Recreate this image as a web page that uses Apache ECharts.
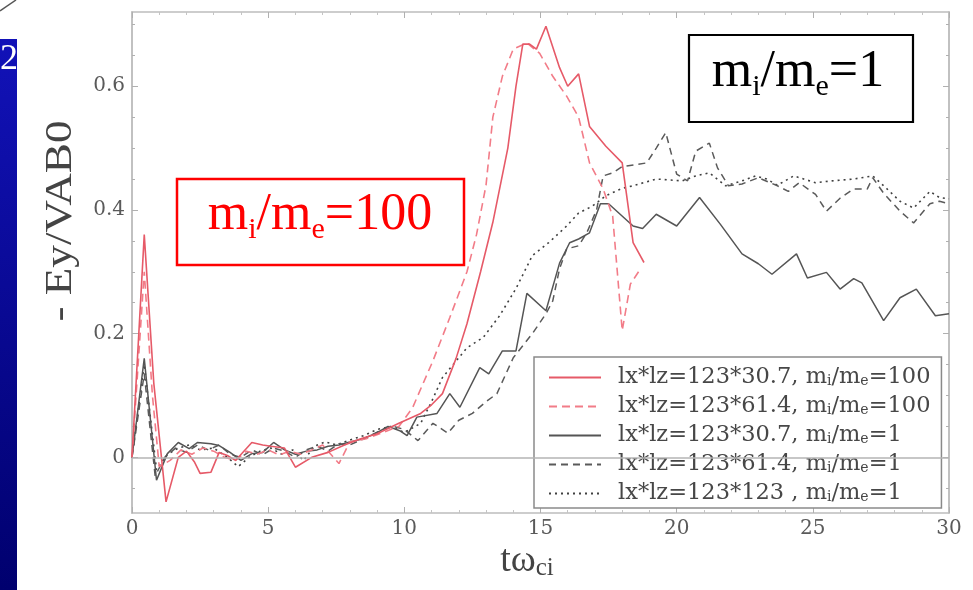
<!DOCTYPE html>
<html>
<head>
<meta charset="utf-8">
<script src="https://cdn.jsdelivr.net/npm/echarts@6/dist/echarts.min.js"></script>
<style>
  html, body { margin: 0; padding: 0; background: #fff; }
  #chart { width: 973px; height: 590px; }
</style>
</head>
<body>
<div id="chart"></div>
<script>
// Reconnection electric field -Ey/(VA B0) versus time t*omega_ci, five runs.
// Each series is a list of [t, value] samples.

const xTicks = [0, 5, 10, 15, 20, 25, 30];
const yTicks = [0, 0.2, 0.4, 0.6];
const yMinorTicks = [-0.05, 0.05, 0.1, 0.15, 0.25, 0.3, 0.35, 0.45, 0.5, 0.55, 0.65, 0.7];

const seriesNames = [
  ['lx*lz=123*30.7, m', 'i', '/m', 'e', '=100'],
  ['lx*lz=123*61.4, m', 'i', '/m', 'e', '=100'],
  ['lx*lz=123*30.7, m', 'i', '/m', 'e', '=1'],
  ['lx*lz=123*61.4, m', 'i', '/m', 'e', '=1'],
  ['lx*lz=123*123 , m', 'i', '/m', 'e', '=1']
];

// lx*lz = 123*30.7, mi/me = 100
const red307 = [
  [0, 0], [0.45, 0.36], [0.8, 0.12], [1.25, -0.072], [1.7, 0.0], [2.0, 0.01], [2.3, -0.008],
  [2.5, -0.026], [2.9, -0.024], [3.2, 0.008], [3.5, 0.003], [3.8, -0.005], [4.4, 0.024],
  [4.8, 0.02], [5.1, 0.018], [5.6, 0.015], [6.0, -0.016], [6.6, 0.0], [7.2, 0.008],
  [7.8, 0.02], [8.4, 0.03], [9.0, 0.038], [9.8, 0.055], [10.6, 0.071], [11.0, 0.085],
  [11.4, 0.103], [11.9, 0.16], [12.3, 0.216], [12.8, 0.3], [13.25, 0.38], [13.8, 0.5],
  [14.1, 0.6], [14.35, 0.668], [14.6, 0.668], [14.85, 0.66], [15.2, 0.697], [15.7, 0.63],
  [16.0, 0.6], [16.4, 0.62], [16.8, 0.535], [17.4, 0.503], [18.0, 0.476], [18.4, 0.347],
  [18.8, 0.315]
];

// lx*lz = 123*61.4, mi/me = 100
const red614 = [
  [0, 0], [0.45, 0.3], [0.75, 0.1], [1.0, -0.015], [1.4, -0.005], [1.8, 0.012], [2.2, 0.005],
  [2.6, 0.015], [3.0, 0.01], [3.4, 0.0], [3.8, -0.005], [4.2, 0.01], [4.6, 0.005],
  [5.0, 0.012], [5.4, 0.004], [5.8, 0.01], [6.2, 0.005], [6.6, 0.012], [7.0, 0.02],
  [7.6, -0.01], [8.0, 0.025], [8.6, 0.03], [9.2, 0.04], [9.8, 0.05], [10.3, 0.08],
  [11.05, 0.156], [11.67, 0.226], [12.3, 0.3], [12.65, 0.36], [13.0, 0.44], [13.25, 0.55],
  [13.6, 0.616], [14.0, 0.66], [14.5, 0.67], [14.97, 0.653], [15.45, 0.616], [15.96, 0.584],
  [16.4, 0.55], [16.8, 0.476], [17.3, 0.434], [17.65, 0.39], [18.0, 0.205], [18.3, 0.28],
  [18.6, 0.3]
];

// lx*lz = 123*30.7, mi/me = 1
const black307 = [
  [0, 0], [0.45, 0.16], [0.9, -0.037], [1.3, 0.006], [1.7, 0.024], [2.1, 0.014], [2.4, 0.024],
  [2.9, 0.022], [3.2, 0.019], [3.6, 0.008], [4.0, -0.005], [4.4, 0.006], [4.8, 0.008],
  [5.2, 0.024], [5.6, 0.012], [6.0, 0.005], [6.4, 0.01], [6.8, 0.012], [7.2, 0.018],
  [7.6, 0.02], [8.0, 0.025], [8.5, 0.03], [9.0, 0.04], [9.4, 0.05], [9.83, 0.043],
  [10.1, 0.035], [10.46, 0.065], [11.2, 0.071], [11.67, 0.103], [12.04, 0.081],
  [12.77, 0.145], [13.1, 0.135], [13.6, 0.172], [14.1, 0.172], [14.5, 0.265], [15.2, 0.237],
  [15.7, 0.314], [16.07, 0.347], [16.4, 0.353], [16.8, 0.363], [17.2, 0.41], [17.5, 0.41],
  [18.4, 0.374], [18.75, 0.37], [19.25, 0.393], [20.0, 0.374], [20.84, 0.42], [21.6, 0.377],
  [22.4, 0.329], [23.0, 0.313], [23.5, 0.296], [24.4, 0.329], [24.8, 0.29], [25.5, 0.299],
  [26.0, 0.272], [26.5, 0.289], [26.8, 0.282], [27.6, 0.221], [28.2, 0.258], [28.8, 0.272],
  [29.5, 0.229], [30, 0.232]
];

// lx*lz = 123*61.4, mi/me = 1
const black614 = [
  [0, 0], [0.45, 0.135], [0.85, -0.03], [1.2, 0.0], [1.6, 0.015], [2.0, 0.008], [2.4, 0.02],
  [2.8, 0.012], [3.2, 0.02], [3.6, 0.005], [4.0, 0.0], [4.4, 0.012], [4.8, 0.004],
  [5.2, 0.015], [5.6, 0.01], [6.0, 0.0], [6.4, 0.012], [6.8, 0.018], [7.2, 0.01],
  [7.6, 0.022], [8.0, 0.02], [8.6, 0.032], [9.2, 0.045], [9.6, 0.05], [10.0, 0.045],
  [10.5, 0.027], [11.05, 0.055], [11.6, 0.039], [12.0, 0.06], [12.5, 0.071], [13.0, 0.09],
  [13.4, 0.103], [14.0, 0.161], [14.7, 0.2], [15.2, 0.232], [15.45, 0.253], [15.7, 0.305],
  [15.96, 0.337], [16.4, 0.342], [16.7, 0.363], [17.06, 0.4], [17.3, 0.455], [17.65, 0.46],
  [18.0, 0.47], [18.9, 0.476], [19.25, 0.5], [19.6, 0.525], [20.0, 0.458], [20.4, 0.447],
  [20.7, 0.495], [21.2, 0.508], [21.5, 0.468], [21.9, 0.439], [22.4, 0.442], [23.0, 0.452],
  [23.7, 0.439], [24.1, 0.43], [24.5, 0.444], [25.1, 0.425], [25.5, 0.398], [26.0, 0.419],
  [26.5, 0.434], [27.0, 0.434], [27.2, 0.452], [27.6, 0.427], [28.2, 0.398], [28.7, 0.379],
  [29.3, 0.41], [29.65, 0.414], [30, 0.41]
];

// lx*lz = 123*123, mi/me = 1
const black123 = [
  [0, 0], [0.45, 0.15], [0.9, -0.02], [1.3, 0.005], [1.7, 0.015], [2.1, 0.02], [2.5, 0.012],
  [3.0, 0.015], [3.5, 0.0], [3.9, -0.015], [4.3, 0.0], [4.7, 0.01], [5.1, 0.015],
  [5.5, 0.005], [5.9, 0.012], [6.3, -0.005], [6.7, 0.018], [7.1, 0.025], [7.5, 0.02],
  [8.0, 0.028], [8.5, 0.035], [9.0, 0.045], [9.5, 0.05], [10.0, 0.04], [10.6, 0.055],
  [11.0, 0.09], [11.4, 0.129], [12.3, 0.177], [12.9, 0.194], [13.5, 0.229], [14.1, 0.273],
  [14.7, 0.326], [15.3, 0.347], [15.96, 0.374], [16.4, 0.395], [16.9, 0.406], [17.4, 0.423],
  [18.0, 0.435], [18.4, 0.439], [19.25, 0.45], [20.2, 0.447], [20.7, 0.455], [21.2, 0.46],
  [21.8, 0.439], [22.4, 0.447], [22.9, 0.455], [23.3, 0.45], [23.7, 0.44], [24.3, 0.455],
  [25.1, 0.444], [25.7, 0.447], [26.5, 0.45], [27.2, 0.455], [27.7, 0.435], [28.2, 0.414],
  [28.7, 0.403], [29.3, 0.43], [29.65, 0.42], [30, 0.418]
];

const SERIF = '"Liberation Serif", "Times New Roman", serif';
const WIDE_SERIF = '"DejaVu Serif", serif';
const Y_MIN = -0.09, Y_MAX = 0.72;

const chart = echarts.init(document.getElementById('chart'), null, { renderer: 'canvas' });

function plainName(parts) { return parts.join(''); }
function richName(parts) {
  return '{t|' + parts[0] + '}{s|' + parts[1] + '}{t|' + parts[2] + '}{s|' + parts[3] + '}{t|' + parts[4] + '}';
}
const richByName = {};
seriesNames.forEach(p => { richByName[plainName(p)] = richName(p); });

function lineSeries(idx, data, color, type, width, extra) {
  return Object.assign({
    name: plainName(seriesNames[idx]),
    type: 'line',
    data: data,
    xAxisIndex: 0,
    yAxisIndex: 0,
    symbol: 'none',
    smooth: false,
    lineStyle: { color: color, width: width, type: type },
    itemStyle: { color: color },
    emphasis: { disabled: true },
    animation: false
  }, extra || {});
}

function yAxisDef(position, values, tickLen, showLabel) {
  return {
    type: 'value', position: position, min: Y_MIN, max: Y_MAX,
    axisLine: { show: true, onZero: false, lineStyle: { color: '#bdbdbd', width: 1.5 } },
    axisTick: { show: true, inside: true, length: tickLen, customValues: values, lineStyle: { color: '#b0b0b0', width: 1 } },
    axisLabel: {
      show: showLabel, customValues: values, margin: 7,
      formatter: v => (Math.abs(v) < 1e-9 ? '0' : v.toFixed(1)),
      fontFamily: WIDE_SERIF, fontSize: 20, color: '#5a5a5a'
    },
    splitLine: { show: false }
  };
}

function xAxisDef(position, showLabel) {
  return {
    type: 'value', position: position, min: 0, max: 30, interval: 5,
    axisLine: { show: true, onZero: false, lineStyle: { color: '#bdbdbd', width: 1.5 } },
    axisTick: { show: true, inside: true, length: 6, lineStyle: { color: '#b0b0b0', width: 1 } },
    minorTick: { show: true, splitNumber: 5, length: 3, lineStyle: { color: '#c4c4c4', width: 1 } },
    axisLabel: {
      show: showLabel, margin: 6, fontFamily: WIDE_SERIF, fontSize: 20, color: '#5a5a5a',
      customValues: xTicks
    },
    splitLine: { show: false },
    minorSplitLine: { show: false }
  };
}

const option = {
  backgroundColor: '#ffffff',
  animation: false,
  grid: { left: 132, right: 24, top: 12, bottom: 77, containLabel: false },
  xAxis: [xAxisDef('bottom', true), xAxisDef('top', false)],
  yAxis: [
    yAxisDef('left', yTicks, 6, true),
    yAxisDef('left', yMinorTicks, 3, false),
    yAxisDef('right', yTicks, 6, false),
    yAxisDef('right', yMinorTicks, 3, false)
  ],
  legend: {
    show: true,
    orient: 'vertical',
    left: 534, top: 357,
    padding: [9, 11, 3, 14],
    itemWidth: 52, itemHeight: 14, itemGap: 6,
    backgroundColor: '#ffffff',
    borderColor: '#8a8a8a', borderWidth: 1.5, borderRadius: 0,
    selectedMode: false,
    itemStyle: { opacity: 0, borderWidth: 0 },
    formatter: name => richByName[name],
    textStyle: {
      padding: [0, 0, 0, 12],
      lineHeight: 22,
      rich: {
        t: { fontFamily: WIDE_SERIF, fontSize: 22.5, color: '#474747', lineHeight: 22 },
        s: { fontFamily: WIDE_SERIF, fontSize: 14, color: '#474747', lineHeight: 14, verticalAlign: 'bottom' }
      }
    },
    data: seriesNames.map(plainName)
  },
  series: [
    lineSeries(4, black123, '#404040', [2, 4], 1.6),
    lineSeries(3, black614, '#5a5a5a', [7, 5], 1.5),
    lineSeries(2, black307, '#555555', 'solid', 1.5, {
      markLine: {
        silent: true, symbol: ['none', 'none'], animation: false,
        label: { show: false },
        lineStyle: { color: '#b4b4b4', type: 'solid', width: 1.5 },
        data: [{ yAxis: 0 }]
      }
    }),
    lineSeries(1, red614, '#f27c88', [8, 5], 1.6),
    lineSeries(0, red307, '#e65a68', 'solid', 1.6)
  ],
  graphic: [
    // slide edge on the left
    {
      type: 'rect', left: 0, top: 39, z: 10,
      shape: { width: 17, height: 551 },
      style: {
        fill: new echarts.graphic.LinearGradient(0, 0, 0, 1, [
          { offset: 0, color: '#1212b8' },
          { offset: 1, color: '#00006e' }
        ])
      }
    },
    {
      type: 'text', left: 0, top: 42, z: 11,
      style: { text: '2', fill: '#ffffff', font: '36px ' + SERIF }
    },
    {
      type: 'line', z: 11,
      shape: { x1: 0, y1: 11, x2: 16, y2: 0 },
      style: { stroke: '#555', lineWidth: 1.5 }
    },
    // y axis title
    {
      type: 'text', z: 5,
      x: 61, y: 221, rotation: Math.PI / 2, scaleX: 1.22,
      style: {
        text: '- Ey/VAB0',
        font: '37px ' + SERIF,
        fill: '#444444',
        align: 'center', verticalAlign: 'middle'
      }
    },
    // x axis title
    {
      type: 'text', z: 5,
      x: 527, y: 561,
      style: {
        text: '{a|t\u03c9}{b|ci}',
        align: 'center', verticalAlign: 'middle',
        rich: {
          a: { font: '38px ' + SERIF, fill: '#444444', lineHeight: 40 },
          b: { font: '25px ' + SERIF, fill: '#444444', lineHeight: 26, verticalAlign: 'bottom' }
        }
      }
    },
    // mi/me = 100 annotation
    {
      type: 'rect', z: 20,
      shape: { x: 177, y: 179, width: 287, height: 86 },
      style: { fill: '#ffffff', stroke: '#ff0000', lineWidth: 2.5 }
    },
    {
      type: 'text', z: 21,
      x: 320, y: 215,
      style: {
        text: '{m|m}{s|i}{m|/m}{s|e}{m|=100}',
        align: 'center', verticalAlign: 'middle',
        rich: {
          m: { font: '52px ' + SERIF, fill: '#ff0000', lineHeight: 60 },
          s: { font: '30px ' + SERIF, fill: '#ff0000', lineHeight: 18, verticalAlign: 'bottom' }
        }
      }
    },
    // mi/me = 1 annotation
    {
      type: 'rect', z: 20,
      shape: { x: 689, y: 35, width: 224, height: 87 },
      style: { fill: '#ffffff', stroke: '#000000', lineWidth: 2.2 }
    },
    {
      type: 'text', z: 21,
      x: 798, y: 72,
      style: {
        text: '{m|m}{s|i}{m|/m}{s|e}{m|=1}',
        align: 'center', verticalAlign: 'middle',
        rich: {
          m: { font: '52px ' + SERIF, fill: '#000000', lineHeight: 60 },
          s: { font: '30px ' + SERIF, fill: '#000000', lineHeight: 18, verticalAlign: 'bottom' }
        }
      }
    }
  ]
};

chart.setOption(option);
</script>
</body>
</html>
